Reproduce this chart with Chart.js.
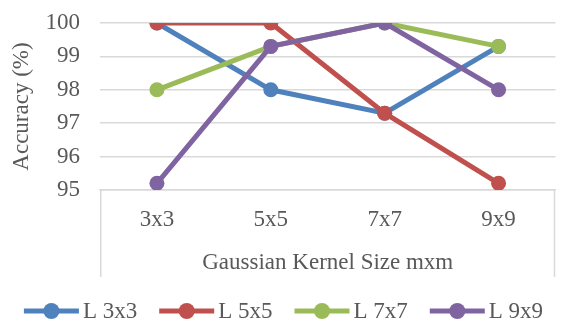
<!DOCTYPE html>
<html>
<head>
<meta charset="utf-8">
<script src="https://cdn.jsdelivr.net/npm/chart.js@4/dist/chart.umd.min.js"></script>
<style>
  html, body { margin: 0; padding: 0; background: #fff; }
  #wrap { width: 563px; height: 320px; }
</style>
</head>
<body>
<div id="wrap"><canvas id="c" width="563" height="320"></canvas></div>
<script>
// Kernel sizes on the x axis
const kernelSizes = ['3x3', '5x5', '7x7', '9x9'];
// Accuracy (%) for each L setting
const accL3 = [100, 98, 97.3, 99.3];
const accL5 = [100, 100, 97.3, 95.2];
const accL7 = [98, 99.3, 100, 99.3];
const accL9 = [95.2, 99.3, 100, 98];
const seriesNames = ['L 3x3', 'L 5x5', 'L 7x7', 'L 9x9'];
const seriesColors = ['#4f81bd', '#c0504d', '#9bbb59', '#8064a2'];
const yTicks = [95, 96, 97, 98, 99, 100];

const FONT = '"Liberation Serif", "Times New Roman", serif';
const FS = 23;
const TEXT = '#595959';
const GRID = '#d9d9d9';

const allSeries = [accL3, accL5, accL7, accL9];
const datasets = allSeries.map((vals, i) => ({
  label: seriesNames[i],
  data: vals,
  borderColor: seriesColors[i],
  backgroundColor: seriesColors[i],
  borderWidth: 5,
  pointRadius: 7.5,
  pointHoverRadius: 7.5,
  pointBorderWidth: 0,
  pointStyle: 'circle',
  tension: 0,
  // later series are painted over earlier ones
  order: allSeries.length - 1 - i
}));

// Frame lines on both sides of the category axis band
const axisFrame = {
  id: 'axisFrame',
  afterDraw(chart) {
    const { ctx, chartArea } = chart;
    ctx.save();
    ctx.strokeStyle = GRID;
    ctx.lineWidth = 1.5;
    const top = chartArea.bottom, bot = chartArea.bottom + 87;
    [chartArea.left + 0.75, chartArea.right - 1].forEach(x => {
      ctx.beginPath(); ctx.moveTo(x, top); ctx.lineTo(x, bot); ctx.stroke();
    });
    ctx.restore();
  }
};

// Legend row: line-with-marker swatch followed by the series name
const lineLegend = {
  id: 'lineLegend',
  afterDraw(chart) {
    const { ctx } = chart;
    const sw = 55, gapText = 4, gapItem = 22, cy = 311;
    ctx.save();
    ctx.font = FS + 'px ' + FONT;
    ctx.textBaseline = 'middle';
    const items = chart.data.datasets.map(d => ({
      d, w: sw + gapText + ctx.measureText(d.label).width
    }));
    const total = items.reduce((s, it) => s + it.w, 0) + gapItem * (items.length - 1);
    let x = (chart.width - total) / 2 + 2;
    items.forEach(({ d, w }) => {
      ctx.strokeStyle = d.borderColor;
      ctx.lineWidth = 5;
      ctx.beginPath(); ctx.moveTo(x, cy); ctx.lineTo(x + sw, cy); ctx.stroke();
      ctx.fillStyle = d.borderColor;
      ctx.beginPath(); ctx.arc(x + sw / 2, cy, 8, 0, Math.PI * 2); ctx.fill();
      ctx.fillStyle = TEXT;
      ctx.textAlign = 'left';
      ctx.fillText(d.label, x + sw + gapText, cy + 1);
      x += w + gapItem;
    });
    ctx.restore();
  }
};

new Chart(document.getElementById('c'), {
  type: 'line',
  data: { labels: kernelSizes, datasets },
  plugins: [axisFrame, lineLegend],
  options: {
    responsive: false,
    animation: false,
    layout: { padding: { top: 23, right: 0, left: 0, bottom: 40 } },
    plugins: {
      tooltip: { enabled: false },
      legend: { display: false }
    },
    scales: {
      x: {
        offset: true,
        afterFit(axis) { axis.height = 90; axis.paddingLeft = 0; axis.paddingRight = 0; },
        grid: { display: false, drawTicks: false },
        border: { display: true, color: GRID, width: 1.5 },
        ticks: { color: TEXT, font: { family: FONT, size: FS }, padding: 16 },
        title: {
          display: true,
          text: 'Gaussian Kernel Size mxm',
          color: TEXT,
          font: { family: FONT, size: FS },
          padding: { top: 0, bottom: 3 }
        }
      },
      y: {
        min: 95,
        max: 100,
        afterFit(axis) { axis.width = 100; axis.paddingTop = 0; axis.paddingBottom = 0; },
        afterBuildTicks(axis) { axis.ticks = yTicks.map(v => ({ value: v })); },
        grid: { color: GRID, lineWidth: 1.5, drawTicks: false },
        border: { display: false },
        ticks: { color: TEXT, font: { family: FONT, size: FS }, padding: 20 },
        title: {
          display: true,
          text: 'Accuracy (%)',
          color: TEXT,
          font: { family: FONT, size: FS },
          padding: { top: 8, bottom: 0 }
        }
      }
    }
  }
});
</script>
</body>
</html>
